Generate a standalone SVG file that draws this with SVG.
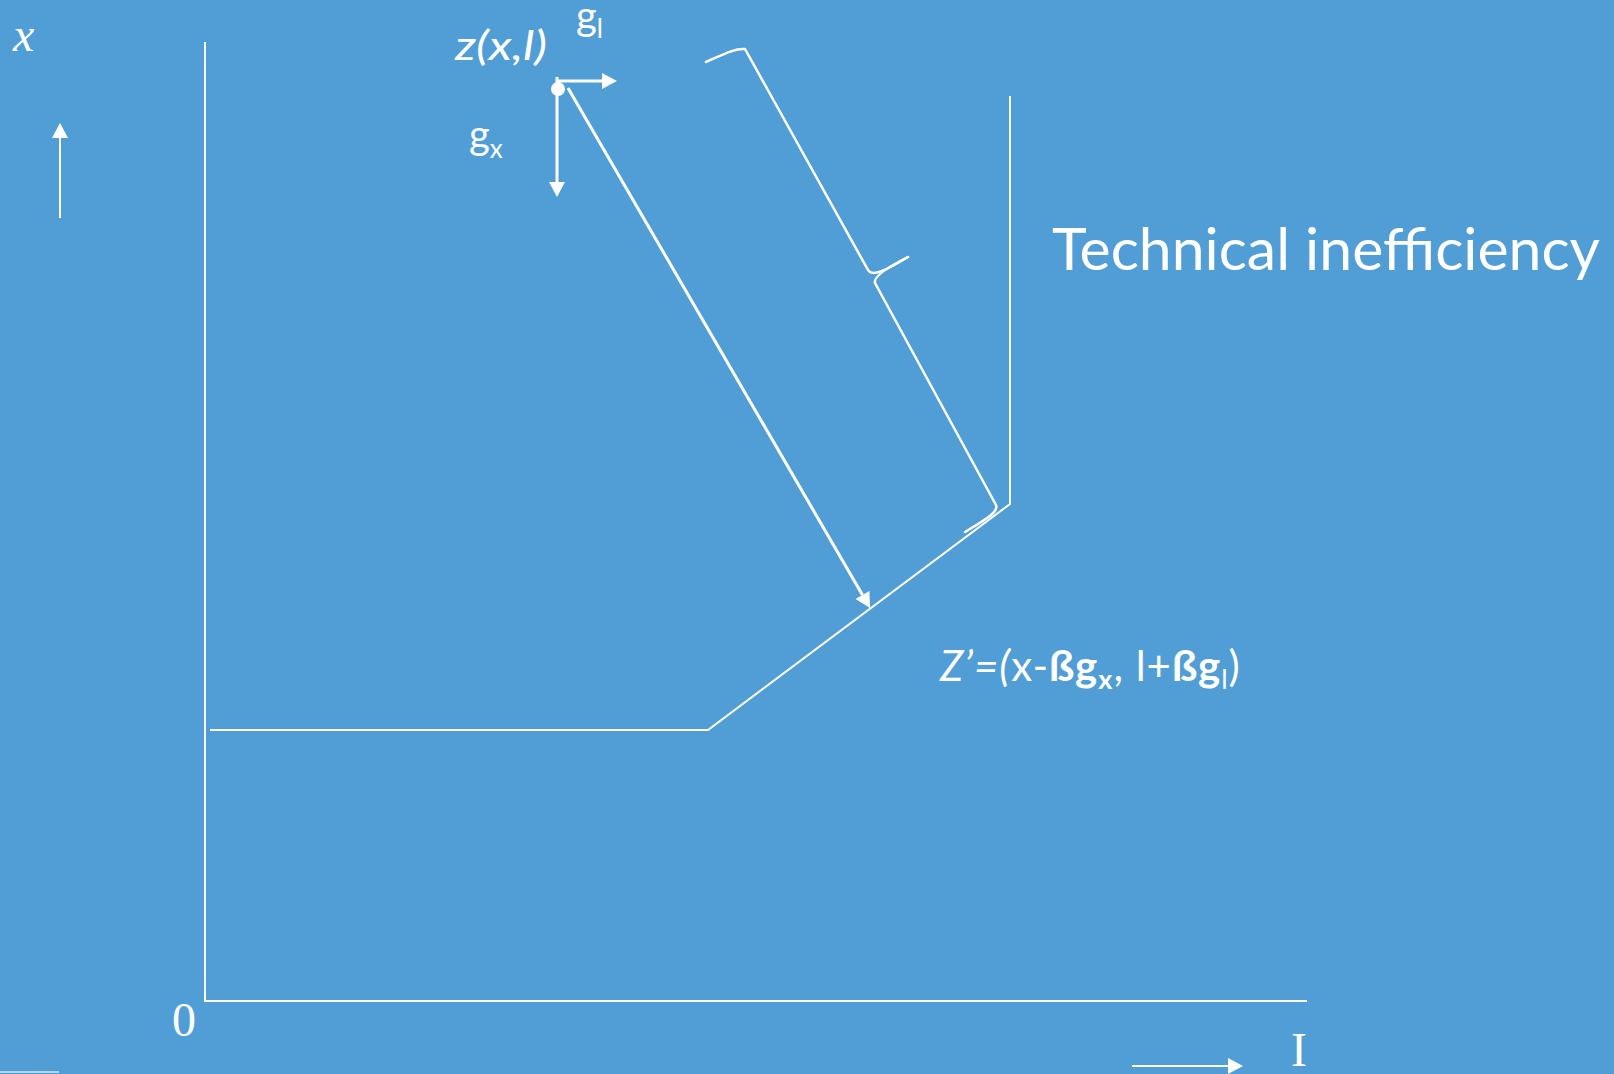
<svg xmlns="http://www.w3.org/2000/svg" width="1614" height="1074" viewBox="0 0 1614 1074">
<defs>
<style>
.ln{stroke:#fff;stroke-width:2;fill:none}
.th{stroke:#fff;stroke-width:3;fill:none}
.br{stroke:#fff;stroke-width:2.5;fill:none;stroke-linejoin:round;stroke-linecap:round}
.serif{font-family:"Liberation Serif","Times New Roman",serif;fill:#fff}
.sans{font-family:Lato,"Open Sans","Liberation Sans",sans-serif;fill:#fff}
</style>
<marker id="ah" markerUnits="userSpaceOnUse" markerWidth="16" markerHeight="16" refX="0" refY="8" orient="auto" overflow="visible">
<path d="M0,0 L15,8 L0,16 z" fill="#fff"/>
</marker>
</defs>
<rect x="0" y="0" width="1614" height="1074" fill="#519ED7"/>
<rect x="0" y="1071" width="59" height="2" fill="#b5d5ef"/>

<g id="axes">
<polyline class="ln" points="205,42 205,1001 1307,1001"/>
</g>
<g id="axis-labels">
<text class="serif" x="13" y="51" font-size="48" font-style="italic">x</text>
<text class="serif" x="172" y="1036" font-size="48">0</text>
<text class="serif" x="1291" y="1066" font-size="48">I</text>
</g>

<g id="frontier">
<polyline class="ln" points="210,730 708,730 1010,504 1010,96"/>
</g>

<g id="point-z">
<circle cx="558" cy="89" r="7" fill="#fff"/>
<text class="sans" x="455" y="60" font-size="40" font-style="italic" textLength="92" lengthAdjust="spacingAndGlyphs">z(x,l)</text>
</g>

<g id="label-gl">
<text class="sans" x="576" y="30" font-size="40">g<tspan font-size="26" dy="8">l</tspan></text>
</g>
<g id="label-gx">
<text class="sans" x="469" y="149" font-size="40">g<tspan font-size="26" dy="9">x</tspan></text>
</g>

<g id="brace">
<path class="br" d="M706,62 C722,55 735,48 745,49 L868,270 C872,277 885,271 908,257"/>
<path class="br" d="M908,257 C890,266 873,276 875,283 L996,505 C999,512 985,520 965,532"/>
</g>

<g id="label-technical">
<text class="sans" x="1052" y="270" font-size="58" textLength="548" lengthAdjust="spacingAndGlyphs">Technical inefficiency</text>
</g>

<g id="label-zprime">
<text class="sans" x="940" y="681" font-size="42" letter-spacing="1"><tspan font-style="italic">Z’=(</tspan><tspan>x-</tspan><tspan font-weight="bold">ßg</tspan><tspan dy="8" font-size="27" font-weight="bold">x</tspan><tspan dy="-8">, l+</tspan><tspan font-weight="bold">ßg</tspan><tspan dy="8" font-size="27">l</tspan><tspan dy="-8">)</tspan></text>
</g>

<g id="connectors">
<line class="ln" x1="60" y1="218" x2="60" y2="138" marker-end="url(#ah)"/>
<line class="ln" x1="1132" y1="1066" x2="1228" y2="1066" marker-end="url(#ah)"/>
<line class="th" x1="557" y1="81" x2="602" y2="81" marker-end="url(#ah)"/>
<line class="th" x1="557" y1="77" x2="557" y2="182" marker-end="url(#ah)"/>
<line class="th" x1="568" y1="88" x2="862.5" y2="595" marker-end="url(#ah)"/>
</g>
</svg>
